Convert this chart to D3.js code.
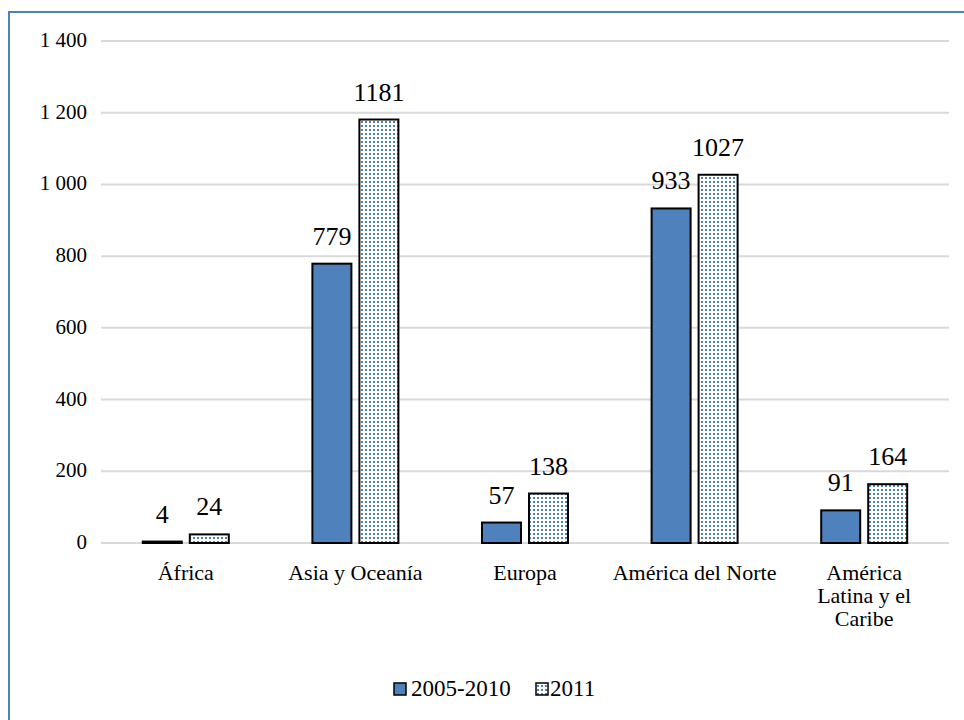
<!DOCTYPE html>
<html><head><meta charset="utf-8">
<script src="https://cdn.jsdelivr.net/npm/d3@7"></script>
<style>body{margin:0;background:#fff}svg{display:block}</style>
</head><body>
<script>
const categories = [["África"], ["Asia y Oceanía"], ["Europa"], ["América del Norte"], ["América", "Latina y el", "Caribe"]];
const series2005 = [4, 779, 57, 933, 91];
const series2011 = [24, 1181, 138, 1027, 164];
const seriesNames = ["2005-2010", "2011"];
const yTicks = [0, 200, 400, 600, 800, 1000, 1200, 1400];

const FONT = '"Liberation Serif"';
const W = 964, H = 720;
const svg = d3.select("body").append("svg").attr("width", W).attr("height", H);
const defs = svg.append("defs");
const pat = defs.append("pattern").attr("id", "dots").attr("patternUnits", "userSpaceOnUse")
  .attr("width", 4).attr("height", 4);
pat.append("rect").attr("width", 4).attr("height", 4).attr("fill", "#fff");
pat.append("rect").attr("x", 1).attr("y", 1).attr("width", 2).attr("height", 2).attr("fill", "#4f81bd");

svg.append("rect").attr("x", 9).attr("y", 12).attr("width", W).attr("height", H)
  .attr("fill", "none").attr("stroke", "#4f81bd").attr("stroke-width", 2);

const x0 = d3.scaleBand().domain(d3.range(categories.length)).range([101, 949]);
const y = d3.scaleLinear().domain([0, 1400]).range([543, 41]);

// grid
svg.append("g").selectAll("line").data(yTicks).join("line")
  .attr("x1", 101).attr("x2", 949).attr("y1", d => y(d)).attr("y2", d => y(d))
  .attr("stroke", "#d9d9d9").attr("stroke-width", 2);

// y tick labels
const fmt = d => d3.format(",")(d).replace(/,/g, " ");
svg.append("g").selectAll("text").data(yTicks).join("text")
  .attr("x", 87).attr("y", d => y(d) + 6).attr("text-anchor", "end")
  .style("font-family", FONT).attr("font-size", 21).attr("fill", "#000").text(fmt);

const bw = 39, gap = 8;
const data = categories.map((c, i) => ({i, vals: [series2005[i], series2011[i]]}));
const g = svg.append("g");
data.forEach(d => {
  const cx = x0(d.i) + x0.bandwidth() / 2;
  d.vals.forEach((v, j) => {
    const bx = j === 0 ? cx - gap / 2 - bw : cx + gap / 2;
    g.append("rect").attr("x", bx).attr("y", y(v)).attr("width", bw).attr("height", y(0) - y(v))
      .attr("fill", j === 0 ? "#4f81bd" : "url(#dots)").attr("stroke", "#000").attr("stroke-width", 2);
    g.append("text").attr("x", bx + bw / 2).attr("y", y(v) - 19).attr("text-anchor", "middle")
      .style("font-family", FONT).attr("font-size", 26).text(v);
  });
  categories[d.i].forEach((line, k) => {
    g.append("text").attr("x", cx).attr("y", 580 + k * 23).attr("text-anchor", "middle")
      .style("font-family", FONT).attr("font-size", 22).text(line);
  });
});

// legend
const leg = svg.append("g");
const items = [{x: 394, tx: 411, fill: "#4f81bd"}, {x: 536, tx: 550, fill: "url(#dots)"}];
items.forEach((it, j) => {
  leg.append("rect").attr("x", it.x).attr("y", 683).attr("width", 12).attr("height", 12)
    .attr("fill", it.fill).attr("stroke", "#000").attr("stroke-width", 1.5);
  leg.append("text").attr("x", it.tx).attr("y", 696).style("font-family", FONT)
    .attr("font-size", 23).text(seriesNames[j]);
});
</script>
</body></html>
